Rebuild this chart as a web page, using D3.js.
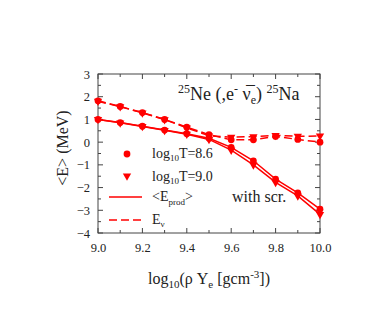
<!DOCTYPE html>
<html>
<head>
<meta charset="utf-8">
<script src="https://cdn.jsdelivr.net/npm/d3@7"></script>
<style>
  body { margin: 0; background: #fff; }
  text { font-family: "Liberation Serif", "DejaVu Serif", serif; fill: #222; }
</style>
</head>
<body>
<div id="chart"></div>
<script>
// density grid log10(rho Ye)
var rho = [9.0, 9.1, 9.2, 9.3, 9.4, 9.5, 9.6, 9.7, 9.8, 9.9, 10.0]

// <E_prod> (solid)
var eprod86 = [1.0, 0.86, 0.70, 0.53, 0.37, 0.17, -0.23, -0.82, -1.63, -2.23, -2.95]
var eprod90 = [1.0, 0.85, 0.69, 0.52, 0.35, 0.12, -0.35, -1.0, -1.77, -2.37, -3.18]
// E_nu (dashed)
var enu86 = [1.82, 1.57, 1.30, 1.0, 0.66, 0.33, 0.10, 0.10, 0.25, 0.12, 0.0]
var enu90 = [1.80, 1.56, 1.29, 0.99, 0.63, 0.28, 0.22, 0.24, 0.30, 0.26, 0.27]

var xTicks = [9.0, 9.2, 9.4, 9.6, 9.8, 10.0]
var yTicks = [-4, -3, -2, -1, 0, 1, 2, 3]

var W = 371, H = 336
var pL = 98, pR = 320, pT = 74, pB = 233
var red = "#ff0000"

var svg = d3.select("#chart").append("svg")
    .attr("width", W)
    .attr("height", H)

var x = d3.scaleLinear().domain([9.0, 10.0]).range([pL, pR])
var y = d3.scaleLinear().domain([-4, 3]).range([pB, pT])

// frame
svg.append("rect")
    .attr("x", pL).attr("y", pT)
    .attr("width", pR - pL).attr("height", pB - pT)
    .attr("fill", "none").attr("stroke", "#444").attr("stroke-width", 1)

// ticks (inward, all four sides)
var xMinor = d3.range(0, 11).map(function(i){ return 9.0 + i / 10 })
var yMinor = d3.range(0, 15).map(function(i){ return -4 + i / 2 })
var tk = svg.append("g").attr("stroke", "#444").attr("stroke-width", 1)
xMinor.forEach(function(v, i){
    var len = (i % 2 == 0) ? 5 : 3
    tk.append("line").attr("x1", x(v)).attr("x2", x(v)).attr("y1", pB).attr("y2", pB - len)
    tk.append("line").attr("x1", x(v)).attr("x2", x(v)).attr("y1", pT).attr("y2", pT + len)
})
yMinor.forEach(function(v, i){
    var len = (i % 2 == 0) ? 5 : 3
    tk.append("line").attr("y1", y(v)).attr("y2", y(v)).attr("x1", pL).attr("x2", pL + len)
    tk.append("line").attr("y1", y(v)).attr("y2", y(v)).attr("x1", pR).attr("x2", pR - len)
})

// tick labels through axes (tick lines hidden)
svg.append("g")
    .attr("transform", "translate(0," + pB + ")")
    .call(d3.axisBottom(x).tickValues(xTicks).tickFormat(d3.format(".1f")).tickSize(0).tickPadding(10))
svg.append("g")
    .attr("transform", "translate(" + pL + ",0)")
    .call(d3.axisLeft(y).tickValues(yTicks).tickFormat(d3.format("d")).tickSize(0).tickPadding(8))
svg.selectAll(".domain").remove()
svg.selectAll(".tick text")
    .style("font-family", "'Liberation Serif', serif")
    .style("font-size", "12.5px")
    .attr("fill", "#222")

// axis titles
var xl = svg.append("text")
    .attr("x", 209).attr("y", 284)
    .attr("text-anchor", "middle")
    .style("font-size", "16px")
xl.append("tspan").text("log")
xl.append("tspan").text("10").style("font-size", "11px").attr("dy", 4)
xl.append("tspan").text("(\u03C1 Y").attr("dy", -4)
xl.append("tspan").text("e").style("font-size", "11px").attr("dy", 4)
xl.append("tspan").text(" [gcm").attr("dy", -4)
xl.append("tspan").text("-3").style("font-size", "11px").attr("dy", -6)
xl.append("tspan").text("])").attr("dy", 6)

svg.append("text")
    .attr("transform", "translate(68,148) rotate(-90)")
    .attr("text-anchor", "middle")
    .style("font-size", "16px")
    .text("<E> (MeV)")

// lines
var line = d3.line()
    .x(function(d){ return x(d[0]) })
    .y(function(d){ return y(d[1]) })

var series = [
    {vals: eprod86, dash: null, mark: "circle"},
    {vals: eprod90, dash: null, mark: "tri"},
    {vals: enu86, dash: "8,4", mark: "circle"},
    {vals: enu90, dash: "8,4", mark: "tri"}
]

var circ = d3.symbol().type(d3.symbolCircle).size(36)
var tri = d3.symbol().type(d3.symbolTriangle).size(30)

series.forEach(function(s){
    var pts = rho.map(function(r, i){ return [r, s.vals[i]] })
    svg.append("path")
        .attr("d", line(pts))
        .attr("fill", "none")
        .attr("stroke", red)
        .attr("stroke-width", 1.5)
        .attr("stroke-dasharray", s.dash)
    svg.selectAll(null).data(pts).enter().append("path")
        .attr("d", s.mark == "circle" ? circ : tri)
        .attr("transform", function(d){
            return "translate(" + x(d[0]) + "," + y(d[1]) + ")" + (s.mark == "tri" ? " rotate(180)" : "")
        })
        .attr("fill", red)
})

// reaction label
var t = svg.append("text").attr("x", 178).attr("y", 100).style("font-size", "18px")
t.append("tspan").text("25").style("font-size", "12px").attr("dy", -7)
t.append("tspan").text("Ne (,e").attr("dy", 7)
t.append("tspan").text("-").style("font-size", "12px").attr("dy", -7)
t.append("tspan").text(" \u03BD\u0305").attr("dy", 7)
t.append("tspan").text("e").style("font-size", "12px").attr("dy", 4)
t.append("tspan").text(") ").attr("dy", -4)
t.append("tspan").text("25").style("font-size", "12px").attr("dy", -7)
t.append("tspan").text("Na").attr("dy", 7)

// legend
svg.append("path").attr("d", circ).attr("transform", "translate(127,154)").attr("fill", red)
svg.append("path").attr("d", tri).attr("transform", "translate(127,176) rotate(180)").attr("fill", red)
svg.append("line").attr("x1", 109).attr("x2", 142).attr("y1", 197).attr("y2", 197)
    .attr("stroke", red).attr("stroke-width", 1.5)
svg.append("line").attr("x1", 109).attr("x2", 142).attr("y1", 220).attr("y2", 220)
    .attr("stroke", red).attr("stroke-width", 1.5).attr("stroke-dasharray", "8,4")

function logT(yy, val){
    var g = svg.append("text").attr("x", 152).attr("y", yy).style("font-size", "14px")
    g.append("tspan").text("log")
    g.append("tspan").text("10").style("font-size", "9px").attr("dy", 3)
    g.append("tspan").text("T=" + val).attr("dy", -3)
}
logT(158, "8.6")
logT(181, "9.0")

var ep = svg.append("text").attr("x", 152).attr("y", 201).style("font-size", "14px")
ep.append("tspan").text("<E")
ep.append("tspan").text("prod").style("font-size", "9px").attr("dy", 4)
ep.append("tspan").text(">").attr("dy", -4)

var en = svg.append("text").attr("x", 152).attr("y", 224).style("font-size", "14px")
en.append("tspan").text("E")
en.append("tspan").text("\u03BD").style("font-size", "9px").attr("dy", 3)

svg.append("text").attr("x", 232).attr("y", 202).style("font-size", "16px").text("with scr.")
</script>
</body>
</html>
